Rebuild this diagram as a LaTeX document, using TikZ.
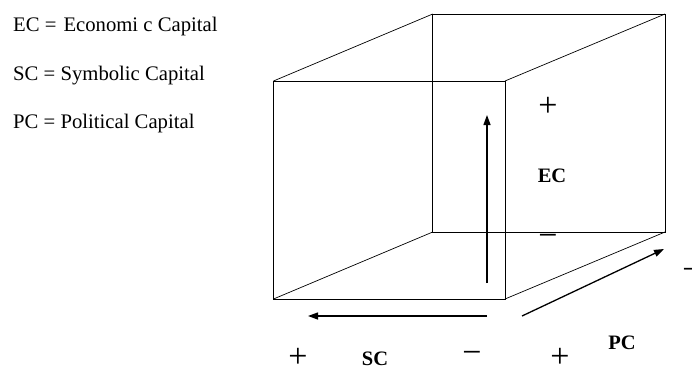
\documentclass[tikz,border=0pt]{standalone}
\usepackage{fontspec}
\setmainfont{Liberation Serif}
\usetikzlibrary{arrows.meta}

\begin{document}
\begin{tikzpicture}[x=1pt,y=-1pt,>={Triangle[length=10pt,width=7pt]}]
\tikzstyle{edge}=[draw, line width=0.9pt]
\tikzstyle{axis}=[->, line width=1.3pt]
\tikzstyle{legend}=[anchor=base west, inner sep=0pt, font=\fontsize{20.7}{24}\selectfont]
\tikzstyle{label}=[inner sep=0pt, font=\fontsize{20.5}{24}\selectfont\bfseries]
\tikzstyle{sign}=[inner sep=0pt, font=\fontsize{34}{36}\selectfont]
\useasboundingbox (0,0) rectangle (692,367);
  % legend
  \node[legend] (L1) at (13,31) {EC =\hspace{7pt}Economi c Capital};
  \node[legend] (L2) at (13,80) {SC = Symbolic Capital};
  \node[legend] (L3) at (13,128) {PC = Political Capital};
  % cube corners
  \coordinate (FA) at (273.5,81);
  \coordinate (FB) at (505,81);
  \coordinate (FC) at (505,299);
  \coordinate (FD) at (273.5,299);
  \coordinate (BA) at (432.7,14);
  \coordinate (BB) at (665,14);
  \coordinate (BC) at (665,232);
  \coordinate (BD) at (432.7,232);
  \draw[edge] (FA) -- (FB) -- (FC) -- (FD) -- cycle;
  \draw[edge] (BA) -- (BB) -- (BC) -- (BD) -- cycle;
  \draw[line width=0.7pt] (FA) -- (BA) (FB) -- (BB) (FC) -- (BC) (FD) -- (BD);
  % axes
  \coordinate (ECs) at (487,283);
  \coordinate (ECe) at (487,115);
  \coordinate (SCs) at (487,316);
  \coordinate (SCe) at (308,316);
  \coordinate (PCs) at (522,316);
  \coordinate (PCe) at (664,249);
  \draw[axis] (ECs) -- (ECe);
  \draw[axis] (SCs) -- (SCe);
  \draw[axis] (PCs) -- (PCe);
  % labels
  \node[sign] (ECplus) at (548,107) {+};
  \node[label] (EC) at (552,176) {EC};
  \node[sign] (ECminus) at (548,240) {−};
  \node[sign] (PCminus) at (692,274) {−};
  \node[sign] (SCplus) at (298,358) {+};
  \node[label] (SC) at (375,359) {SC};
  \node[sign] (SCminus) at (472,357) {−};
  \node[sign] (PCplus) at (560,358) {+};
  \node[label] (PC) at (622,343) {PC};
\end{tikzpicture}
\end{document}
